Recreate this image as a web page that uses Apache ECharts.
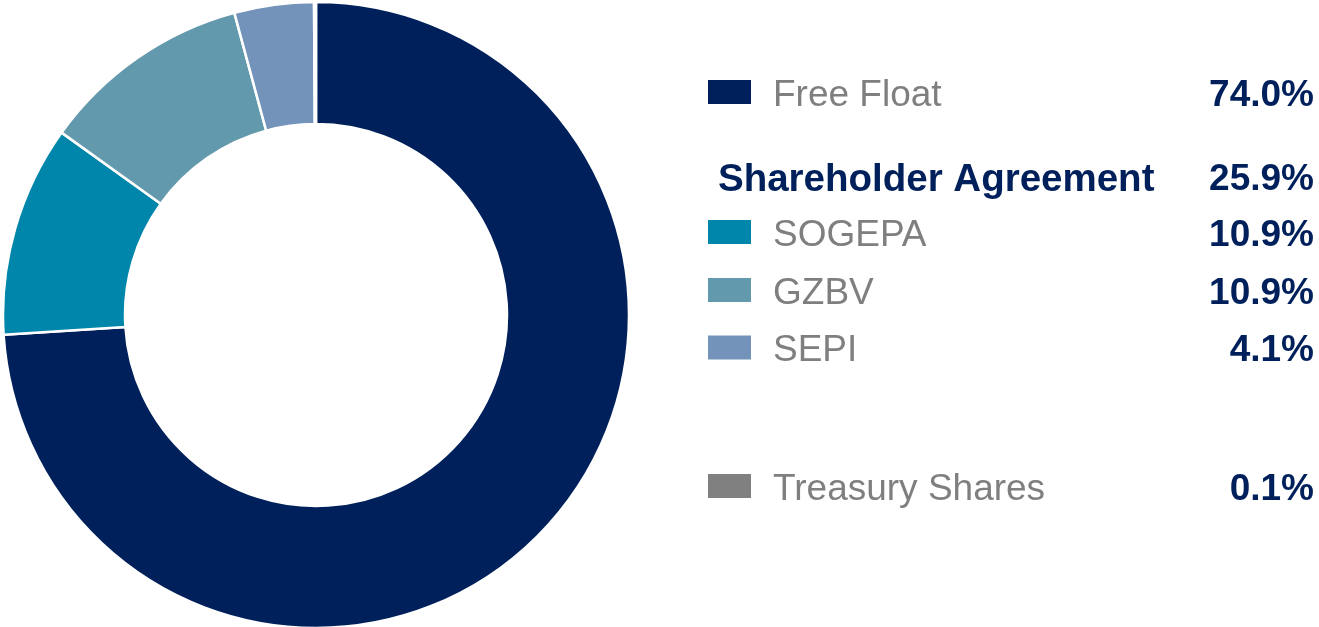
<!DOCTYPE html>
<html>
<head>
<meta charset="utf-8">
<script src="https://cdn.jsdelivr.net/npm/echarts@6/dist/echarts.min.js"></script>
<style>
html,body{margin:0;padding:0;background:#fff;}
#chart{width:1319px;height:627px;}
</style>
</head>
<body>
<div id="chart"></div>
<script>
// Data
const categories = ['Free Float', 'SOGEPA', 'GZBV', 'SEPI', 'Treasury Shares'];
const shares = [74.0, 10.9, 10.9, 4.1, 0.1];
const groupLabel = 'Shareholder Agreement';
const groupValue = 25.9;

// Styles
const colors = ['#00205B', '#0086AB', '#6399AC', '#7393BA', '#808080'];
const navy = '#00205B';
const gray = '#7F7F7F';
const rowCenters = [92, 232, 290, 347.5, 486];
const textCenters = [95.5, 235.5, 293.5, 351, 489.5];
const groupCenter = 180;
const squareX = 708, squareW = 43, squareH = 24;
const labelX = 773, valueRight = 1314, groupX = 718;
const regFont = '37px "Liberation Sans", Arial, sans-serif';
const boldFont = 'bold 37px "Liberation Sans", Arial, sans-serif';
const groupFont = 'bold 38.5px "Liberation Sans", Arial, sans-serif';

const fmt = v => v.toFixed(1) + '%';

const graphics = [];
categories.forEach((name, i) => {
  const cy = rowCenters[i];
  graphics.push({
    type: 'rect', shape: {x: squareX, y: cy - squareH / 2, width: squareW, height: squareH},
    style: {fill: colors[i]}, silent: true
  });
  graphics.push({
    type: 'text', x: labelX, y: textCenters[i],
    style: {text: name, fill: gray, font: regFont, textAlign: 'left', textVerticalAlign: 'middle'}, silent: true
  });
  graphics.push({
    type: 'text', x: valueRight, y: textCenters[i],
    style: {text: fmt(shares[i]), fill: navy, font: boldFont, textAlign: 'right', textVerticalAlign: 'middle'}, silent: true
  });
});
graphics.push({
  type: 'text', x: groupX, y: groupCenter,
  style: {text: groupLabel, fill: navy, font: groupFont, textAlign: 'left', textVerticalAlign: 'middle'}, silent: true
});
graphics.push({
  type: 'text', x: valueRight, y: groupCenter,
  style: {text: fmt(groupValue), fill: navy, font: boldFont, textAlign: 'right', textVerticalAlign: 'middle'}, silent: true
});

const chart = echarts.init(document.getElementById('chart'), null, {renderer: 'canvas'});
chart.setOption({
  animation: false,
  backgroundColor: '#fff',
  series: [{
    type: 'pie',
    center: [316, 315],
    radius: [191, 313],
    startAngle: 90,
    clockwise: true,
    avoidLabelOverlap: false,
    label: {show: false},
    labelLine: {show: false},
    emphasis: {disabled: true},
    itemStyle: {borderColor: '#fff', borderWidth: 2.5},
    data: categories.map((name, i) => ({name, value: shares[i], itemStyle: {color: colors[i]}}))
  }],
  graphic: graphics
});
</script>
</body>
</html>
